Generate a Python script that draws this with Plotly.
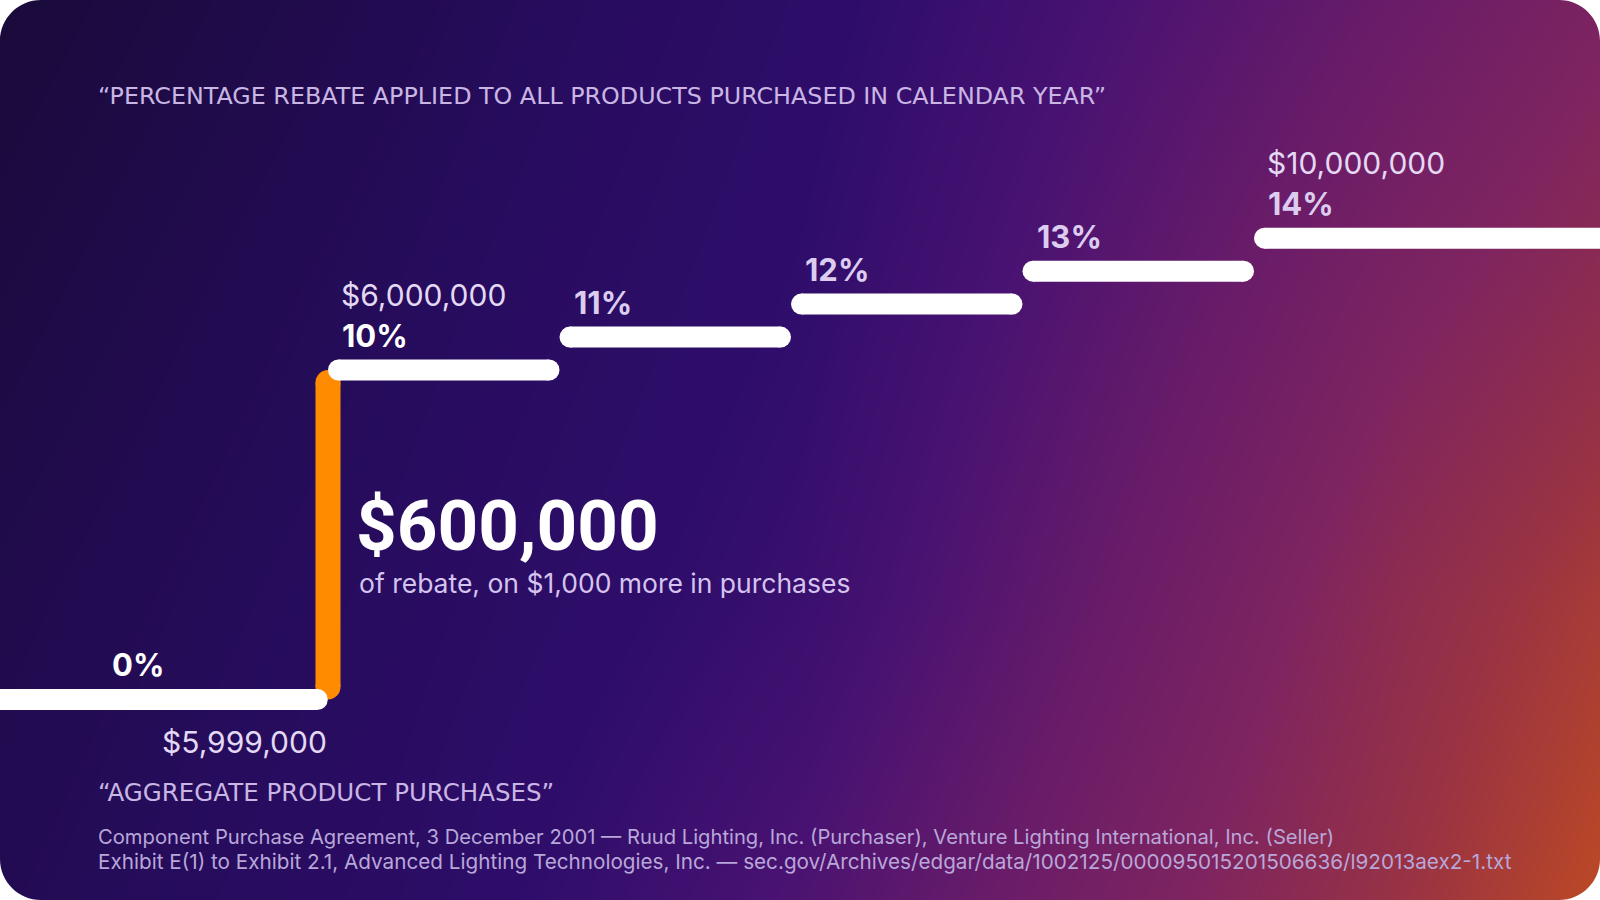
import plotly.graph_objects as go

# rebate schedule (Exhibit E(1))
tier_start = [6_000_000, 7_000_000, 8_000_000, 9_000_000, 10_000_000]
tier_rate = [10, 11, 12, 13, 14]
base_rate = 0
base_from = 5_000_000
base_to = 5_999_000

# background tone, sampled across the card (rows top->bottom, cols left->right)
tone_cols = [0.0, 0.25, 0.5, 0.69, 0.875, 1.0]
tone_rows = [0.0, 1 / 3, 2 / 3, 1.0]
tone = [
    [0.00, 0.13, 0.29, 0.45, 0.60, 0.70],
    [0.05, 0.18, 0.33, 0.52, 0.70, 0.79],
    [0.10, 0.22, 0.38, 0.59, 0.79, 0.89],
    [0.14, 0.26, 0.47, 0.67, 0.84, 0.96],
]
tone_scale = [
    [0.0, "#1a0a3a"], [0.2, "#270c5e"], [0.32, "#2e0d6a"], [0.45, "#481272"],
    [0.6, "#6a1c68"], [0.72, "#7e2460"], [0.84, "#983244"], [1.0, "#c8501a"],
]

W, H = 1600, 900
# pixel placement of the scale
X6_PX, PX_PER_M = 328, 231.5
Y0_PX, PX_PER_PCT = 699.5, 32.95
BAR_W = 21
JUMP_W = 25
ORANGE = "#ff8c00"
LAVENDER = "#dccdf0"


def px_x(px):
    return tier_start[0] + (px - X6_PX) / PX_PER_M * 1e6


def px_y(py):
    return (Y0_PX - py) / PX_PER_PCT


def paper(px, py):
    return px / W, 1 - py / H


x_range = [px_x(0), px_x(W)]
y_range = [px_y(H), px_y(0)]
pad = BAR_W / 2 / PX_PER_M * 1e6
vpad = JUMP_W / 2 / PX_PER_PCT

fig = go.Figure()

fig.add_trace(go.Heatmap(
    x=[x_range[0] + c * (x_range[1] - x_range[0]) for c in tone_cols],
    y=[y_range[1] - r * (y_range[1] - y_range[0]) for r in tone_rows],
    z=tone, colorscale=tone_scale, zmin=0, zmax=1, zsmooth="best",
    showscale=False, hoverinfo="skip",
))

# the jump at $6M (rounded ends tucked into the two steps)
fig.add_trace(go.Scatter(
    x=[tier_start[0], tier_start[0]], y=[base_rate + vpad, tier_rate[0] - vpad],
    mode="lines+markers", line=dict(color=ORANGE, width=JUMP_W),
    marker=dict(color=ORANGE, size=JUMP_W, line=dict(width=0)), hoverinfo="skip",
))

# steps
lefts = [x_range[0] - 1e6] + tier_start
rights = [base_to] + tier_start[1:] + [x_range[1] + 1e6]
rates = [base_rate] + tier_rate
for x0, x1, r in zip(lefts, rights, rates):
    fig.add_trace(go.Scatter(
        x=[x0 + pad, x1 - pad], y=[r, r], mode="lines+markers",
        line=dict(color="white", width=BAR_W),
        marker=dict(color="white", size=BAR_W, line=dict(width=0)),
        hoverinfo="skip",
    ))

ann = []
# rate labels
ann.append(dict(x=base_from, y=base_rate, text=f"{base_rate}%", xshift=13, yshift=35,
                font=dict(family="Inter", size=31, color="white", weight=700)))
for i, (x, r) in enumerate(zip(tier_start, tier_rate)):
    ann.append(dict(x=x, y=r, text=f"{r}%", xshift=12, yshift=35,
                    font=dict(family="Inter", size=31, weight=700,
                              color="white" if i == 0 else LAVENDER)))
for x, r in [(tier_start[0], tier_rate[0]), (tier_start[-1], tier_rate[-1])]:
    ann.append(dict(x=x, y=r, text=f"${x:,}", xshift=11, yshift=75,
                    font=dict(family="Inter", size=30, color="#e4d9f4")))
ann.append(dict(x=base_to, y=base_rate, text=f"${base_to:,}", xanchor="right",
                xshift=1, yshift=-42, font=dict(family="Inter", size=30, color="#e4d9f4")))
for a in ann:
    a.setdefault("xanchor", "left")
    a.update(xref="x", yref="y", yanchor="middle", showarrow=False)

# callout on the jump
jump = tier_start[0] * tier_rate[0] // 100
extra = tier_start[0] - base_to
px, py = paper(356, 567)
ann.append(dict(x=px, y=py, xref="paper", yref="paper", xanchor="left", yanchor="bottom",
                text=f"<b>${jump:,}</b>", showarrow=False, borderpad=0, borderwidth=0,
                font=dict(family="Roboto", size=71, color="white")))
px, py = paper(359, 567)
ann.append(dict(x=px, y=py, xref="paper", yref="paper", xanchor="left", yanchor="top",
                text=f"of rebate, on ${extra:,} more in purchases", showarrow=False,
                borderpad=0, borderwidth=0,
                font=dict(family="Inter", size=26.5, color="#d5c4ee")))

texts = [
    (96, 96, "“PERCENTAGE REBATE APPLIED TO ALL PRODUCTS PURCHASED IN CALENDAR YEAR”", 23.8, "#c9b6e4", "DejaVu Sans"),
    (96, 792, "“AGGREGATE PRODUCT PURCHASES”", 24.5, "#c9b6e4", "DejaVu Sans"),
    (96, 836, "Component Purchase Agreement, 3 December 2001 — Ruud Lighting, Inc. (Purchaser), "
              "Venture Lighting International, Inc. (Seller)", 20.2, "#b9a7d9", "Inter"),
    (96, 861, "Exhibit E(1) to Exhibit 2.1, Advanced Lighting Technologies, Inc. — "
              "sec.gov/Archives/edgar/data/1002125/000095015201506636/l92013aex2-1.txt", 20.7, "#b9a7d9", "Inter"),
]
for tx, ty, t, s, c, fam in texts:
    px, py = paper(tx, ty)
    ann.append(dict(x=px, y=py, text=t, xref="paper", yref="paper", xanchor="left",
                    yanchor="middle", showarrow=False, font=dict(family=fam, size=s, color=c)))

# rounded card corners
R, K = 41, 0.5523
shapes = []
for cx, cy, sx, sy in [(0, 0, 1, 1), (W, 0, -1, 1), (0, H, 1, -1), (W, H, -1, -1)]:
    pts = [(cx, cy), (cx + sx * R, cy), (cx + sx * R * (1 - K), cy),
           (cx, cy + sy * R * (1 - K)), (cx, cy + sy * R)]
    p = [paper(a, b) for a, b in pts]
    path = (f"M{p[0][0]},{p[0][1]} L{p[1][0]},{p[1][1]} "
            f"C{p[2][0]},{p[2][1]} {p[3][0]},{p[3][1]} {p[4][0]},{p[4][1]} Z")
    shapes.append(dict(type="path", path=path, xref="paper", yref="paper",
                       fillcolor="white", line=dict(width=0), layer="above"))

fig.update_layout(
    width=W, height=H, margin=dict(l=0, r=0, t=0, b=0),
    paper_bgcolor="white", plot_bgcolor="rgba(0,0,0,0)",
    showlegend=False, hovermode=False,
    xaxis=dict(range=x_range, visible=False, fixedrange=True),
    yaxis=dict(range=y_range, visible=False, fixedrange=True),
    annotations=ann, shapes=shapes,
)

fig.write_html("out.html", config={"displayModeBar": False},
               post_script="document.body.style.margin='0';")
